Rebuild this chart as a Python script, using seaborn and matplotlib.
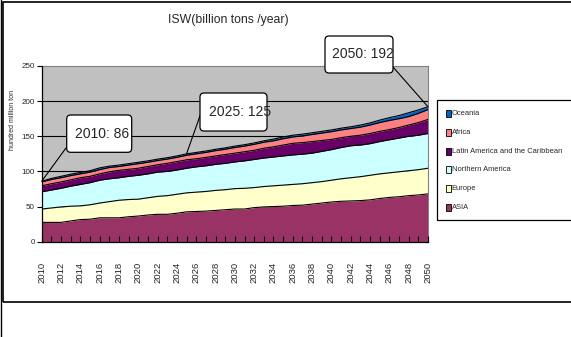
import numpy as np
import pandas as pd
import matplotlib
matplotlib.use("Agg")
import matplotlib.pyplot as plt
import seaborn as sns
from matplotlib.patches import Rectangle, FancyBboxPatch, ConnectionPatch
from matplotlib.lines import Line2D
from matplotlib.transforms import IdentityTransform

# ---- data (hundred million tons per year) ----
years = list(range(2010, 2051))

asia = [27.5, 27.5, 27.5, 29.5, 31.5, 32, 34, 34, 34, 35.5,
        36.5, 38, 39, 39, 40.5, 42.5, 43, 43.5, 44.5, 45.5,
        46.5, 46.5, 48.5, 49.5, 50, 50.5, 51.5, 52, 53.5, 55,
        56.5, 57.5, 58, 58.5, 59.5, 61.5, 63, 64, 65.5, 66.5,
        68]
europe = [19, 20.5, 22, 21, 19.5, 20.5, 21, 23, 25, 24.5,
          24, 24.5, 25.5, 26.5, 27, 27, 27.5, 28, 28.5, 28.5,
          29, 29.5, 28.5, 29, 29.5, 30, 30, 30.5, 30.5, 30.5,
          31, 32, 33, 34, 35, 35, 35, 35.5, 35.5, 36,
          36.5]
northern_america = [24.5, 25.5, 26.5, 28.5, 30.5, 31.5, 32.5, 32.5, 32, 33,
                    34, 34, 34.5, 34.5, 34.5, 35, 36, 36.5, 37, 37.5,
                    38, 39, 40, 40.5, 41, 41.5, 42, 42, 42, 43,
                    43.5, 44.5, 45.5, 45, 45, 46, 47, 48, 49, 49,
                    49.5]
latin_america = [8.5, 9, 9, 9, 9.5, 9, 9, 10, 10.5, 10,
                 10, 10.5, 10.5, 11.5, 12, 12, 11.5, 12, 12, 12.5,
                 12.5, 13, 13, 14, 14.5, 15.5, 16.5, 16.5, 16.5, 15.5,
                 14.5, 14, 13.5, 14, 14.5, 14.5, 14.5, 15, 16, 18,
                 20]
africa = [5.5, 6, 6, 6, 5.5, 6, 6, 6, 5.5, 6,
          6.5, 6, 6, 6, 6, 6.5, 7, 7, 7.5, 7.5,
          8, 8, 8.5, 8.5, 8.5, 9, 9, 9.5, 10, 10.5,
          11, 11, 11, 11.5, 12, 12.5, 13, 12.5, 12, 13,
          14]
oceania = [1, 1.5, 2, 2, 2, 2, 2.5, 2, 2, 2,
           2, 2, 2, 2, 2, 2, 2, 2, 2, 2,
           2, 2, 2, 2, 2.5, 2.5, 2.5, 2.5, 2.5, 2.5,
           2.5, 2.5, 2.5, 3, 3, 3.5, 4, 4.5, 5.5, 5,
           4]

regions = ["ASIA", "Europe", "Northern America",
           "Latin America and the Caribbean", "Africa", "Oceania"]
colors = ["#993366", "#FFFFCC", "#CCFFFF", "#660066", "#FF8080", "#0066CC"]
callout_years = [2010, 2025, 2050]
year_ticks = list(range(2010, 2051, 2))
y_ticks = [0, 50, 100, 150, 200, 250]
title = "ISW(billion tons /year)"
y_title = "hundred million ton"

# ---- style ----
sns.set_style("white")
plt.rcParams["font.family"] = ["Liberation Sans", "DejaVu Sans"]

W, H = 571, 337
fig = plt.figure(figsize=(W / 100, H / 100), dpi=100)
fig.patch.set_facecolor("white")


def fx(x):
    return x / W


def fy(y):
    return 1 - y / H


ax = fig.add_axes([fx(41.7), fy(241.7), fx(428) - fx(41.7), fy(66) - fy(241.7)])
ax.set_facecolor("#C0C0C0")

df = pd.DataFrame({"year": years, "ASIA": asia, "Europe": europe,
                   "Northern America": northern_america,
                   "Latin America and the Caribbean": latin_america,
                   "Africa": africa, "Oceania": oceania})
cum = df[regions].cumsum(axis=1)

# horizontal gridlines beneath the areas
for v in y_ticks[1:-1]:
    ax.axhline(v, color="black", lw=0.8, zorder=1)

lower = np.zeros(len(years))
for r, c in zip(regions, colors):
    ax.fill_between(df["year"], lower, cum[r], color=c, lw=0, zorder=2)
    lower = cum[r].to_numpy()

# black boundary line on top of each band
long = cum.assign(year=df["year"]).melt(id_vars="year", var_name="region", value_name="top")
sns.lineplot(data=long, x="year", y="top", units="region", estimator=None,
             color="black", lw=0.8, ax=ax, zorder=3, legend=False)

ax.set_xlim(2010, 2050)
ax.set_ylim(0, 250)
ax.set_xlabel("")
ax.set_ylabel("")
ax.set_yticks(y_ticks)
ax.set_xticks(year_ticks)
ax.set_xticklabels([str(y) for y in year_ticks], rotation=90)
ax.set_xticks(years, minor=True)
ax.tick_params(axis="x", which="both", direction="in", length=4, width=0.8,
               color="black", labelsize=6.8, pad=14.5, bottom=True)
ax.tick_params(axis="y", direction="out", length=3.5, width=0.8,
               color="black", labelsize=5.8, pad=1.5, left=True)
ax.set_axisbelow(False)
for s in ["left", "bottom"]:
    ax.spines[s].set_color("black")
    ax.spines[s].set_linewidth(0.9)
    ax.spines[s].set_zorder(4)
for s in ["top", "right"]:
    ax.spines[s].set_color("#808080")
    ax.spines[s].set_linewidth(0.8)

# ---- titles ----
fig.text(fx(228), fy(20), title, fontsize=8.8, ha="center", va="center")
fig.text(fx(13), fy(120), y_title, fontsize=5, rotation=90, ha="center", va="center")

# ---- callouts with the total for selected years ----
px = IdentityTransform()
boxes = [(66.7, 115, 131.7, 152.3), (200, 93, 267, 131), (325, 36, 393, 73)]
starts = [(66, 148), (201, 113), (393, 67)]
text_pos = [(75, 134), (209, 112), (332, 54)]
for yr, (x0, y0, x1, y1), (sx, sy), (tx, ty) in zip(callout_years, boxes, starts, text_pos):
    total = int(round(cum.loc[df["year"] == yr, "Oceania"].iloc[0]))
    con = ConnectionPatch(xyA=(fx(sx), fy(sy)), coordsA=fig.transFigure,
                          xyB=(yr, total), coordsB=ax.transData,
                          color="black", lw=0.8, zorder=5)
    fig.add_artist(con)
    box = FancyBboxPatch((x0, H - y1), x1 - x0, y1 - y0,
                         boxstyle="round,pad=0,rounding_size=4",
                         transform=px, facecolor="white", edgecolor="black",
                         lw=0.9, zorder=6)
    fig.add_artist(box)
    t = fig.text(fx(tx), fy(ty), f"{yr}: {total}", fontsize=10,
                 ha="left", va="center", zorder=7)
    t.set_clip_path(box)

# ---- legend ----
fig.add_artist(Rectangle((436.7, H - 220), 150, 120, transform=px,
                         facecolor="white", edgecolor="black", lw=0.9))
entry_y0, entry_step = 113.5, 18.8
for i, (r, c) in enumerate(zip(regions[::-1], colors[::-1])):
    cy = entry_y0 + i * entry_step
    fig.add_artist(Rectangle((445.5, H - cy - 3.5), 5, 7, transform=px,
                             facecolor=c, edgecolor="black", lw=0.6))
    fig.text(fx(451.5), fy(cy), r, fontsize=5.4, ha="left", va="center")

# ---- chart frame ----
fig.add_artist(Rectangle((3.3, H - 302), 600, 300, transform=px,
                         facecolor="none", edgecolor="black", lw=1.2))
fig.add_artist(Line2D([1.2, 1.2], [0, H], transform=px, color="black", lw=1.0))

fig.savefig("out.png", dpi=100)
